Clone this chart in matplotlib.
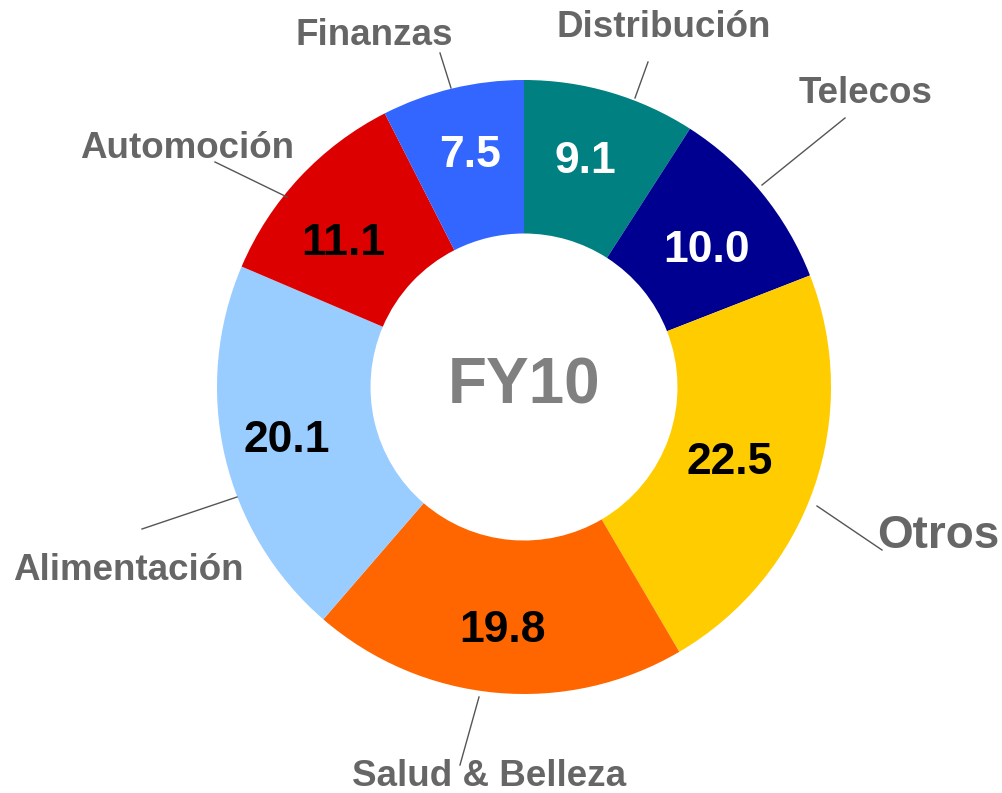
import matplotlib
matplotlib.use("Agg")
import matplotlib.pyplot as plt
import numpy as np

categories = ["Distribución", "Telecos", "Otros", "Salud & Belleza",
              "Alimentación", "Automoción", "Finanzas"]
values = [9.1, 10.0, 22.5, 19.8, 20.1, 11.1, 7.5]
value_labels = ["9.1", "10.0", "22.5", "19.8", "20.1", "11.1", "7.5"]
colors = ["#008080", "#000090", "#FFCC00", "#FF6600", "#99CCFF", "#DD0000", "#3366FF"]
value_colors = ["white", "white", "black", "black", "black", "black", "white"]
center_text = "FY10"

W, H = 1002, 793
CX, CY, R = 524, 387, 307

def px(x, y):
    return ((x - CX) / R, (CY - y) / R)

plt.rcParams['font.family'] = ['Liberation Sans', 'DejaVu Sans']
fig = plt.figure(figsize=(W / 100, H / 100), dpi=100)
ax = fig.add_axes([0, 0, 1, 1])

wedges, _ = ax.pie(values, colors=colors, startangle=90, counterclock=False,
                   radius=1.0, wedgeprops=dict(width=0.5, edgecolor='none'),
                   center=(0, 0), frame=True)
ax.set_xlim((0 - CX) / R, (W - CX) / R)
ax.set_ylim((CY - H) / R, CY / R)
ax.set_aspect('equal')
ax.axis('off')

# value label layout positions (pixels)
value_pos = [(585, 162), (707, 251), (730, 463), (503, 631), (287, 441),
             (343, 244), (470, 156)]
for (x, y), lab, tc in zip(value_pos, value_labels, value_colors):
    tx, ty = px(x, y)
    ax.text(tx, ty, lab, ha='center', va='center',
            fontsize=32, fontweight='bold', color=tc)

ax.text(0, 0, center_text, ha='center', va='center', fontsize=46,
        fontweight='bold', color='#808080')

# category labels with leader lines (pixel positions of layout)
label_pos = {
    "Finanzas": (374, 36, 26.5),
    "Distribución": (664, 28, 26.5),
    "Telecos": (866, 94, 26.5),
    "Automoción": (187, 149, 26.5),
    "Alimentación": (128, 570, 26.5),
    "Otros": (938, 536, 33),
    "Salud & Belleza": (489, 776, 26.5),
}
leaders = {
    "Finanzas": ((440, 53), (451, 88)),
    "Distribución": ((648, 62), (635, 98)),
    "Telecos": ((845, 118), (762, 185)),
    "Automoción": ((215, 162), (287, 197)),
    "Alimentación": ((142, 529), (237, 497)),
    "Otros": ((882, 550), (817, 506)),
    "Salud & Belleza": ((460, 765), (479, 697)),
}
for cat in categories:
    x, y, fs = label_pos[cat]
    tx, ty = px(x, y)
    ax.text(tx, ty, cat, ha='center', va='center', fontsize=fs,
            fontweight='bold', color='#666666')
    (x0, y0), (x1, y1) = leaders[cat]
    p0, p1 = px(x0, y0), px(x1, y1)
    ax.plot([p0[0], p1[0]], [p0[1], p1[1]], color='#555555', lw=1.0)

fig.savefig("out.png", dpi=100)
